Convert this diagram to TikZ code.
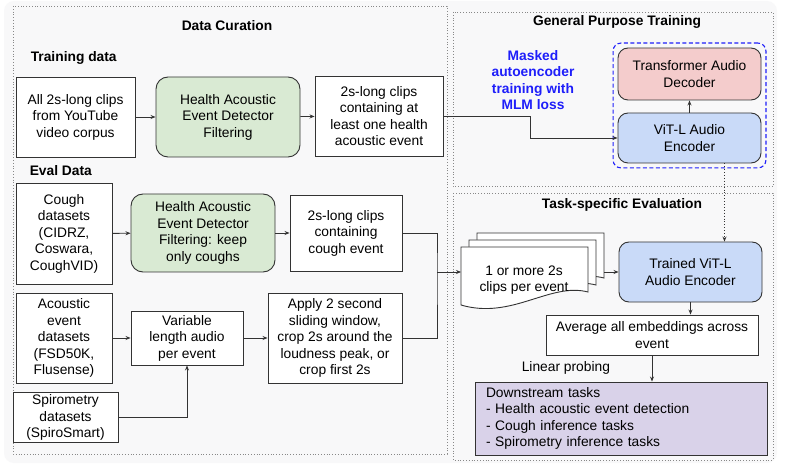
\documentclass[tikz,border=0pt]{standalone}
\usepackage{fontspec}
\setmainfont{Liberation Sans}
\usetikzlibrary{arrows.meta,fit}
\definecolor{linec}{HTML}{333333}
\definecolor{framec}{HTML}{888888}
\definecolor{cardc}{HTML}{F8F8F9}
\definecolor{greenc}{HTML}{D9EAD3}
\definecolor{pinkc}{HTML}{F4CCCC}
\definecolor{bluec}{HTML}{C9DAF8}
\definecolor{purplec}{HTML}{D9D2E9}
\definecolor{maec}{HTML}{1E1EFA}
\begin{document}
\begin{tikzpicture}[x=1pt, y=-1pt, line width=0.9pt, >={Stealth[length=5pt,width=4pt]},
    font=\fontsize{13.8}{16.5}\selectfont,
    box/.style = {draw=linec, fill=white, align=center, inner sep=2pt},
    filt/.style = {box, fill=greenc, rounded corners=12pt},
    model/.style = {box, rounded corners=10pt},
    frame/.style = {draw=framec, dotted, line width=0.8pt},
    title/.style = {font=\fontsize{13.8}{16.5}\selectfont\bfseries}]

    \useasboundingbox (0,0) rectangle (790,465);
    \fill[white] (0,0) rectangle (790,465);
    \fill[cardc, rounded corners=10pt] (4,1) rectangle (777,463);

    % frames
    \draw[frame] (13,6) rectangle (447,454);
    \draw[frame] (453,12) rectangle (773,186);
    \draw[frame] (453,193) rectangle (773,460);

    \node[title] (t1) at (227,26) {Data Curation};
    \node[title, anchor=west] (t2) at (27,58) {Training data};
    \node[title, anchor=west] (t3) at (26,171) {Eval Data};
    \node[title] (t4) at (617,22) {General Purpose Training};
    \node[title] (t5) at (622,205) {Task-specific Evaluation};

    % training data
    \node[box, minimum width=119pt, minimum height=80pt] (yt) at (75.5,117) {All 2s-long clips\\from YouTube\\video corpus};
    \node[filt, minimum width=144pt, minimum height=80pt] (hfilt) at (228,117) {Health Acoustic\\Event Detector\\Filtering};
    \node[box, minimum width=128pt, minimum height=80pt] (hclips) at (379,116) {2s-long clips\\containing at\\least one health\\acoustic event};

    % eval data
    \node[box, minimum width=96pt, minimum height=101pt] (cough) at (64,233.5) {Cough\\datasets\\(CIDRZ,\\Coswara,\\CoughVID)};
    \node[filt, minimum width=144pt, minimum height=78pt] (cfilt) at (203,233) {Health Acoustic\\Event Detector\\Filtering: keep\\only coughs};
    \node[box, minimum width=112pt, minimum height=76pt] (cclips) at (346,233) {2s-long clips\\containing\\cough event};
    \node[box, minimum width=96pt, minimum height=90pt] (acou) at (64,338) {Acoustic\\event\\datasets\\(FSD50K,\\Flusense)};
    \node[box, minimum width=112pt, minimum height=54pt] (varlen) at (187,338) {Variable\\length audio\\per event};
    \node[box, minimum width=134pt, minimum height=90pt] (window) at (335,338) {Apply 2 second\\sliding window,\\crop 2s around the\\loudness peak, or\\crop first 2s};
    \node[box, minimum width=105pt, minimum height=49pt] (spiro) at (65.5,417.5) {Spirometry\\datasets\\(SpiroSmart)};

    % general purpose training
    \node[model, fill=pinkc, minimum width=143pt, minimum height=52pt] (decoder) at (689.5,74) {Transformer Audio\\Decoder};
    \node[model, fill=bluec, minimum width=143pt, minimum height=50pt] (encoder) at (689.5,138) {ViT-L Audio\\Encoder};
    \node[draw=maec, dash pattern=on 4pt off 2.5pt, line width=1.1pt, rounded corners=8pt, inner sep=4.5pt, fit=(decoder)(encoder)] (mae) {};
    \node[font=\fontsize{13.8}{16.5}\selectfont\bfseries, text=maec, align=center] (maelbl) at (533,80) {Masked\\autoencoder\\training with\\MLM loss};

    % task-specific evaluation
    \foreach \dx/\dy in {16/-14, 8/-7, 0/0}
        \draw[linec, fill=white, shift={(\dx,\dy)}] (461,247) -- (588,247) -- (588,292)
            .. controls (550,282) and (512,320) .. (461,305) -- cycle;
    \node[align=center] (docs) at (524,280) {1 or more 2s\\clips per event};
    \coordinate (stackin) at (461,272);
    \coordinate (stackout) at (604,272);
    \node[model, fill=bluec, minimum width=143pt, minimum height=60pt] (trained) at (690.5,272) {Trained ViT-L\\Audio Encoder};
    \node[box, minimum width=212pt, minimum height=40pt] (avg) at (652,335) {Average all embeddings across\\event};
    \node[anchor=west] (probe) at (518,368) {Linear probing};
    \node[box, fill=purplec, minimum width=292pt, minimum height=73pt, text width=270pt, align=left, inner xsep=11pt] (down) at (621,418.5) {Downstream tasks\\- Health acoustic event detection\\- Cough inference tasks\\- Spirometry inference tasks};

    % connectors
    \draw[->, linec] (yt) -- (hfilt);
    \draw[->, linec] (hfilt) -- (hclips);
    \draw[->, linec] (hclips.east) -- ++(87,0) |- (encoder.west);
    \draw[->, linec] (encoder) -- (decoder);
    \draw[->, linec] (cough) -- (cfilt);
    \draw[->, linec] (cfilt) -- (cclips);
    \draw[->, linec] (acou) -- (varlen);
    \draw[->, linec] (varlen) -- (window);
    \draw[->, linec] (spiro.east) -| (varlen.south);
    \coordinate (join) at (437,272);
    \draw[linec] (cclips.east) -| (join) |- (window.east);
    \draw[->, linec] (join) -- (stackin);
    \draw[->, linec] (stackout) -- (trained.west);
    \draw[->, linec, dotted] ([xshift=35pt]encoder.south) -- ([xshift=35pt]encoder.south |- trained.north);
    \draw[->, linec] (trained.south) -- (trained.south |- avg.north);
    \draw[->, linec] (avg.south) -- (avg.south |- down.north);

\end{tikzpicture}
\end{document}
